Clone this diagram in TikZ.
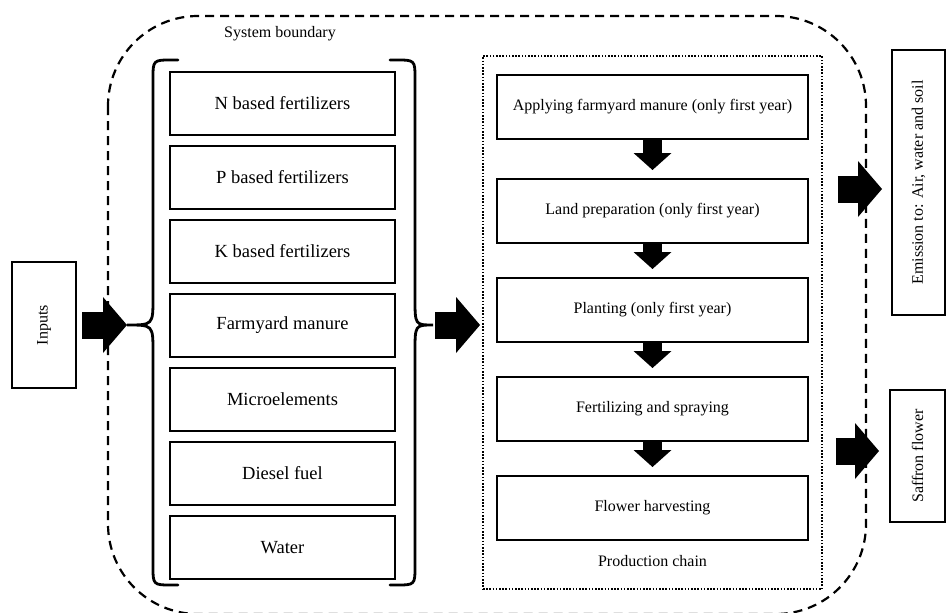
\documentclass[tikz,border=0pt]{standalone}
\usepackage{fontspec}
\setmainfont{Liberation Serif}
\usetikzlibrary{positioning,fit,calc,arrows.meta}

\begin{document}
\begin{tikzpicture}[x=1pt, y=-1pt, every node/.style={font=\fontsize{16}{19}\selectfont}]

	\tikzset{
	inbox/.style={draw, line width=1.7pt, minimum width=225pt, minimum height=63pt, outer sep=0pt, font=\fontsize{18.5}{22}\selectfont},
	stepbox/.style={draw, line width=1.7pt, minimum width=311pt, minimum height=64pt, outer sep=0pt},
	sidebox/.style={draw, line width=1.7pt, outer sep=0pt},
	chainbox/.style={draw, line width=1.9pt, dash pattern=on 1.6pt off 1.6pt},
	brace/.style={line width=2.8pt, line cap=round},
	bigarrow/.style={line width=27pt, -{Triangle[length=24pt,width=56pt,line width=0pt]}},
	downarrow/.style={line width=19pt, -{Triangle[length=17pt,width=38pt,line width=0pt]}}
	}

	\useasboundingbox (0,0) rectangle (946,613);

	% System boundary
	\draw[line width=2.2pt, dash pattern=on 9pt off 6pt, rounded corners=90pt] (108,16) rectangle (866,614);
	\node (sysb) at (280,34) {System boundary};

	% Inputs
	\node[sidebox, minimum width=64pt, minimum height=126pt] (inputs) at (44,325) {\rotatebox{90}{Inputs}};

	\node[inbox] (nfert) at (282.5,103.5) {N based fertilizers};
	\node[inbox, below=11pt of nfert] (pfert) {P based fertilizers};
	\node[inbox, below=11pt of pfert] (kfert) {K based fertilizers};
	\node[inbox, below=11pt of kfert] (manure) {Farmyard manure};
	\node[inbox, below=11pt of manure] (micro) {Microelements};
	\node[inbox, below=11pt of micro] (diesel) {Diesel fuel};
	\node[inbox, below=11pt of diesel] (water) {Water};

	% Braces
	\coordinate (ltip) at (127,325);
	\coordinate (rtip) at (433,325);
	\draw[brace] (178,60) -- (172,60) .. controls (153,60) .. (153,79) -- (153,298)
		.. controls (153,325) .. (ltip) .. controls (153,325) .. (153,352) -- (153,566)
		.. controls (153,585) .. (172,585) -- (178,585);
	\draw[brace] (390,60) -- (396,60) .. controls (415,60) .. (415,79) -- (415,298)
		.. controls (415,325) .. (rtip) .. controls (415,325) .. (415,352) -- (415,566)
		.. controls (415,585) .. (396,585) -- (390,585);

	% Production chain
	\node[stepbox] (apply) at (652.5,107) {Applying farmyard manure (only first year)};
	\node[stepbox, below=40pt of apply] (landprep) {Land preparation (only first year)};
	\node[stepbox, below=35pt of landprep] (planting) {Planting (only first year)};
	\node[stepbox, below=35pt of planting] (fertspray) {Fertilizing and spraying};
	\node[stepbox, below=35pt of fertspray] (harvest) {Flower harvesting};
	\node[below=12pt of harvest] (chainlabel) {Production chain};
	\node[chainbox, fit=(apply)(harvest)(chainlabel), inner xsep=14pt, inner ysep=19pt] (chain) {};

	% Outputs
	\node[sidebox, minimum width=53pt, minimum height=265pt] (emission) at (918.5,182.5) {\rotatebox{90}{Emission to: Air, water and soil}};
	\node[sidebox, minimum width=55pt, minimum height=132pt] (saffron) at (917.5,456) {\rotatebox{90}{Saffron flower}};
	\coordinate (emin) at ($(emission.west)+(0,6.5)$);
	\coordinate (safin) at ($(saffron.west)+(0,-5)$);

	% Arrows
	\draw[bigarrow, shorten <=6pt] (inputs.east) -- (ltip);
	\draw[bigarrow, shorten <=2pt, shorten >=2pt] (rtip) -- (rtip -| chain.west);
	\foreach \a/\b in {apply/landprep, landprep/planting, planting/fertspray, fertspray/harvest}
		\draw[downarrow, shorten >=9pt] (\a.south) -- (\b.north);
	\draw[bigarrow, shorten <=15pt, shorten >=10pt] (emin -| chain.east) -- (emin);
	\draw[bigarrow, shorten <=13pt, shorten >=11pt] (safin -| chain.east) -- (safin);

\end{tikzpicture}
\end{document}
